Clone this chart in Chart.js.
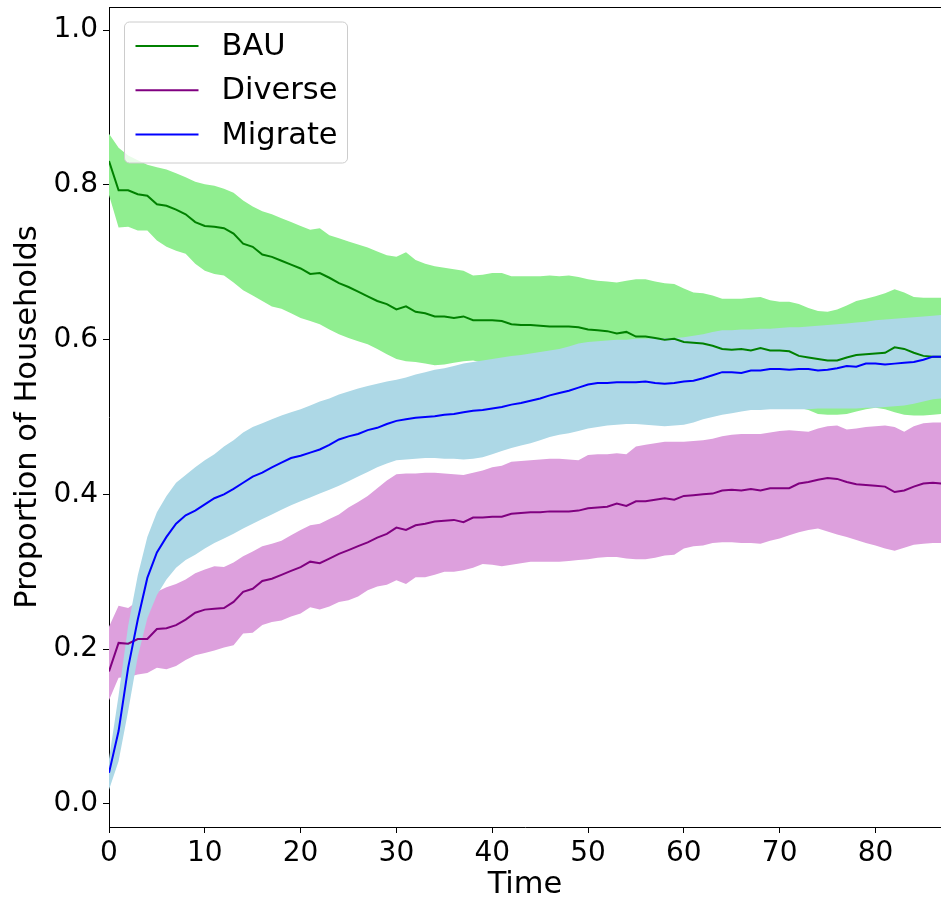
<!DOCTYPE html>
<html>
<head>
<meta charset="utf-8">
<script src="https://cdn.jsdelivr.net/npm/chart.js@4.4.1/dist/chart.umd.min.js"></script>
<style>
  html, body { margin: 0; padding: 0; background: #fff; }
  #marco { width: 941px; height: 900px; }
</style>
</head>
<body>
<div id="marco"><canvas id="grafico" width="941" height="900"></canvas></div>
<script>
const tiempo = Array.from({ length: 88 }, (_, i) => i);
const ticksX = [0, 10, 20, 30, 40, 50, 60, 70, 80];
const ticksY = [0, 0.2, 0.4, 0.6, 0.8, 1.0];
const nombres = ["BAU", "Diverse", "Migrate"];

// BAU
const bauMedia = [0.831, 0.793, 0.793, 0.788, 0.786, 0.775, 0.773, 0.768, 0.762, 0.752,
  0.747, 0.746, 0.744, 0.737, 0.724, 0.720, 0.710, 0.707, 0.702, 0.697,
  0.692, 0.685, 0.686, 0.680, 0.673, 0.668, 0.662, 0.656, 0.650, 0.646,
  0.639, 0.643, 0.636, 0.634, 0.630, 0.630, 0.628, 0.630, 0.625, 0.625,
  0.625, 0.624, 0.620, 0.619, 0.619, 0.618, 0.617, 0.617, 0.617, 0.616,
  0.613, 0.612, 0.611, 0.608, 0.610, 0.604, 0.604, 0.602, 0.600, 0.601,
  0.597, 0.596, 0.595, 0.592, 0.588, 0.587, 0.588, 0.586, 0.589, 0.586,
  0.586, 0.585, 0.579, 0.577, 0.575, 0.573, 0.573, 0.577, 0.580, 0.581,
  0.582, 0.583, 0.590, 0.588, 0.583, 0.579, 0.578, 0.578];
const bauSup = [0.866, 0.848, 0.838, 0.832, 0.826, 0.823, 0.820, 0.815, 0.810, 0.804,
  0.801, 0.799, 0.795, 0.790, 0.780, 0.772, 0.766, 0.762, 0.757, 0.752,
  0.747, 0.742, 0.744, 0.735, 0.731, 0.727, 0.723, 0.719, 0.714, 0.709,
  0.707, 0.713, 0.703, 0.698, 0.695, 0.693, 0.691, 0.689, 0.683, 0.684,
  0.686, 0.686, 0.682, 0.682, 0.682, 0.682, 0.683, 0.682, 0.683, 0.681,
  0.678, 0.676, 0.675, 0.674, 0.676, 0.678, 0.678, 0.675, 0.673, 0.672,
  0.666, 0.661, 0.660, 0.657, 0.653, 0.653, 0.653, 0.654, 0.655, 0.651,
  0.649, 0.649, 0.646, 0.641, 0.637, 0.636, 0.639, 0.644, 0.650, 0.653,
  0.656, 0.660, 0.665, 0.661, 0.655, 0.654, 0.654, 0.654];
const bauInf = [0.787, 0.745, 0.746, 0.741, 0.741, 0.728, 0.720, 0.715, 0.711, 0.698,
  0.689, 0.685, 0.683, 0.674, 0.664, 0.657, 0.650, 0.643, 0.640, 0.634,
  0.628, 0.624, 0.620, 0.613, 0.607, 0.602, 0.598, 0.594, 0.588, 0.581,
  0.575, 0.572, 0.571, 0.569, 0.567, 0.568, 0.570, 0.572, 0.573, 0.570,
  0.566, 0.565, 0.562, 0.560, 0.559, 0.557, 0.556, 0.555, 0.554, 0.553,
  0.551, 0.549, 0.548, 0.546, 0.545, 0.543, 0.541, 0.539, 0.537, 0.536,
  0.534, 0.532, 0.530, 0.528, 0.526, 0.524, 0.522, 0.520, 0.518, 0.516,
  0.514, 0.513, 0.512, 0.509, 0.504, 0.503, 0.503, 0.504, 0.507, 0.510,
  0.512, 0.510, 0.506, 0.503, 0.502, 0.502, 0.503, 0.504];

// Diverse
const divMedia = [0.171, 0.208, 0.207, 0.213, 0.213, 0.226, 0.227, 0.231, 0.238, 0.247,
  0.251, 0.252, 0.253, 0.261, 0.274, 0.278, 0.288, 0.291, 0.296, 0.301,
  0.306, 0.313, 0.311, 0.317, 0.323, 0.328, 0.333, 0.338, 0.344, 0.349,
  0.357, 0.354, 0.360, 0.362, 0.365, 0.366, 0.367, 0.364, 0.370, 0.370,
  0.371, 0.371, 0.375, 0.376, 0.377, 0.377, 0.378, 0.378, 0.378, 0.379,
  0.382, 0.383, 0.384, 0.388, 0.385, 0.391, 0.391, 0.393, 0.395, 0.393,
  0.398, 0.399, 0.400, 0.401, 0.405, 0.406, 0.405, 0.407, 0.405, 0.408,
  0.408, 0.408, 0.414, 0.416, 0.419, 0.421, 0.420, 0.416, 0.413, 0.412,
  0.411, 0.410, 0.403, 0.405, 0.410, 0.414, 0.415, 0.414];
const divSup = [0.229, 0.256, 0.253, 0.262, 0.268, 0.274, 0.280, 0.284, 0.290, 0.298,
  0.303, 0.307, 0.306, 0.312, 0.320, 0.326, 0.333, 0.336, 0.340, 0.347,
  0.354, 0.360, 0.362, 0.368, 0.374, 0.383, 0.390, 0.398, 0.408, 0.418,
  0.426, 0.427, 0.427, 0.428, 0.428, 0.427, 0.426, 0.425, 0.428, 0.431,
  0.435, 0.437, 0.442, 0.443, 0.444, 0.445, 0.446, 0.446, 0.445, 0.444,
  0.451, 0.452, 0.452, 0.453, 0.452, 0.462, 0.464, 0.466, 0.468, 0.468,
  0.468, 0.469, 0.470, 0.472, 0.475, 0.477, 0.478, 0.478, 0.478, 0.480,
  0.482, 0.483, 0.482, 0.481, 0.485, 0.488, 0.489, 0.484, 0.485, 0.487,
  0.488, 0.489, 0.487, 0.481, 0.488, 0.492, 0.493, 0.493];
const divInf = [0.134, 0.163, 0.164, 0.167, 0.169, 0.176, 0.174, 0.178, 0.186, 0.192,
  0.195, 0.198, 0.202, 0.205, 0.220, 0.221, 0.231, 0.235, 0.237, 0.242,
  0.246, 0.254, 0.251, 0.255, 0.261, 0.263, 0.268, 0.276, 0.281, 0.283,
  0.289, 0.284, 0.293, 0.293, 0.296, 0.300, 0.300, 0.302, 0.305, 0.310,
  0.309, 0.307, 0.309, 0.311, 0.313, 0.313, 0.313, 0.313, 0.314, 0.315,
  0.316, 0.318, 0.319, 0.319, 0.317, 0.316, 0.316, 0.318, 0.321, 0.322,
  0.330, 0.333, 0.334, 0.337, 0.338, 0.338, 0.337, 0.337, 0.336, 0.340,
  0.343, 0.347, 0.351, 0.354, 0.356, 0.352, 0.348, 0.345, 0.341, 0.337,
  0.334, 0.330, 0.327, 0.331, 0.335, 0.336, 0.337, 0.337];

// Migrate
const migMedia = [0.040, 0.094, 0.176, 0.238, 0.292, 0.325, 0.345, 0.362, 0.373, 0.379,
  0.387, 0.395, 0.400, 0.407, 0.415, 0.423, 0.428, 0.435, 0.441, 0.447,
  0.450, 0.454, 0.458, 0.464, 0.471, 0.475, 0.478, 0.483, 0.486, 0.491,
  0.495, 0.497, 0.499, 0.500, 0.501, 0.503, 0.504, 0.506, 0.508, 0.509,
  0.511, 0.513, 0.516, 0.518, 0.521, 0.524, 0.528, 0.531, 0.534, 0.538,
  0.542, 0.544, 0.544, 0.545, 0.545, 0.545, 0.546, 0.544, 0.543, 0.544,
  0.546, 0.547, 0.550, 0.554, 0.558, 0.558, 0.557, 0.560, 0.560, 0.562,
  0.562, 0.561, 0.562, 0.562, 0.560, 0.561, 0.563, 0.566, 0.565, 0.569,
  0.569, 0.568, 0.569, 0.570, 0.571, 0.574, 0.578, 0.578];
const migSup = [0.058, 0.140, 0.230, 0.295, 0.345, 0.377, 0.398, 0.415, 0.425, 0.435,
  0.444, 0.452, 0.462, 0.470, 0.480, 0.487, 0.492, 0.497, 0.502, 0.506,
  0.510, 0.515, 0.520, 0.524, 0.529, 0.533, 0.537, 0.540, 0.543, 0.546,
  0.548, 0.551, 0.555, 0.558, 0.561, 0.563, 0.566, 0.569, 0.571, 0.573,
  0.575, 0.577, 0.579, 0.580, 0.582, 0.584, 0.586, 0.588, 0.591, 0.595,
  0.597, 0.598, 0.599, 0.600, 0.600, 0.601, 0.601, 0.602, 0.602, 0.602,
  0.603, 0.605, 0.607, 0.610, 0.612, 0.612, 0.613, 0.613, 0.614, 0.614,
  0.615, 0.616, 0.616, 0.617, 0.618, 0.619, 0.620, 0.621, 0.622, 0.623,
  0.625, 0.626, 0.627, 0.628, 0.629, 0.630, 0.631, 0.632];
const migInf = [0.018, 0.055, 0.120, 0.190, 0.240, 0.270, 0.290, 0.305, 0.315, 0.322,
  0.330, 0.337, 0.343, 0.349, 0.356, 0.362, 0.368, 0.374, 0.380, 0.386,
  0.391, 0.396, 0.401, 0.406, 0.411, 0.417, 0.423, 0.429, 0.435, 0.440,
  0.444, 0.445, 0.446, 0.447, 0.447, 0.446, 0.446, 0.445, 0.446, 0.448,
  0.452, 0.456, 0.460, 0.463, 0.466, 0.470, 0.474, 0.477, 0.479, 0.482,
  0.485, 0.487, 0.489, 0.490, 0.491, 0.491, 0.490, 0.489, 0.488, 0.489,
  0.490, 0.493, 0.497, 0.500, 0.503, 0.505, 0.507, 0.509, 0.509, 0.510,
  0.510, 0.510, 0.510, 0.510, 0.511, 0.511, 0.511, 0.511, 0.511, 0.512,
  0.512, 0.513, 0.514, 0.515, 0.517, 0.520, 0.523, 0.524];

const FUENTE = "'DejaVu Sans', sans-serif";
const TAM = 28;      // numeros de los ejes
const TAM_TIT = 30.5; // titulos de ejes y leyenda

function puntos(valores) {
  return tiempo.map((t, i) => ({ x: t, y: valores[i] }));
}

function limite(valores, orden, relleno, color) {
  return {
    label: "_banda",
    data: puntos(valores),
    borderWidth: 0,
    borderColor: "rgba(0,0,0,0)",
    backgroundColor: color,
    pointRadius: 0,
    fill: relleno,
    order: orden
  };
}

function linea(nombre, valores, color, orden) {
  return {
    label: nombre,
    data: puntos(valores),
    borderColor: color,
    backgroundColor: color,
    borderWidth: 2,
    pointRadius: 0,
    fill: false,
    order: orden
  };
}

// leyenda y borde superior dibujados a mano (la leyenda va dentro del area)
const extras = {
  id: "extras",
  afterDraw(chart) {
    const ctx = chart.ctx;
    const area = chart.chartArea;
    ctx.save();
    ctx.strokeStyle = "#000";
    ctx.lineWidth = 1;
    ctx.beginPath();
    ctx.moveTo(area.left, area.top + 0.5);
    ctx.lineTo(area.right, area.top + 0.5);
    ctx.stroke();

    const x0 = area.left + 15.5, y0 = area.top + 15, w = 223, h = 141;
    ctx.fillStyle = "rgba(255,255,255,0.8)";
    ctx.strokeStyle = "#cccccc";
    ctx.beginPath();
    ctx.roundRect(x0, y0, w, h, 5);
    ctx.fill();
    ctx.stroke();

    const lineas = chart.data.datasets.filter(d => d.label !== "_banda");
    ctx.font = TAM_TIT + "px " + FUENTE;
    ctx.textBaseline = "middle";
    lineas.forEach((d, i) => {
      const y = y0 + 24 + i * 44.3;
      ctx.strokeStyle = d.borderColor;
      ctx.lineWidth = 2;
      ctx.beginPath();
      ctx.moveTo(x0 + 11, y);
      ctx.lineTo(x0 + 74, y);
      ctx.stroke();
      ctx.fillStyle = "#000";
      ctx.fillText(d.label, x0 + 97, y + 1);
    });
    ctx.restore();
  }
};

const chart = new Chart(document.getElementById("grafico").getContext("2d"), {
  type: "line",
  data: {
    datasets: [
      limite(bauInf, 30, false, "#90ee90"),
      limite(bauSup, 30, "-1", "#90ee90"),
      limite(divInf, 20, false, "#dda0dd"),
      limite(divSup, 20, "-1", "#dda0dd"),
      limite(migInf, 10, false, "#add8e6"),
      limite(migSup, 10, "-1", "#add8e6"),
      linea(nombres[0], bauMedia, "#008000", 3),
      linea(nombres[1], divMedia, "#800080", 2),
      linea(nombres[2], migMedia, "#0000ff", 1)
    ]
  },
  options: {
    responsive: false,
    animation: false,
    layout: { padding: { top: 7, right: 0, left: 0, bottom: 0 } },
    plugins: {
      legend: { display: false },
      tooltip: { enabled: false },
      filler: { drawTime: "beforeDatasetsDraw" }
    },
    scales: {
      x: {
        type: "linear",
        min: 0,
        max: 86.84,
        afterFit: s => { s.height = 73; },
        afterBuildTicks: s => { s.ticks = ticksX.map(v => ({ value: v })); },
        grid: { drawOnChartArea: false, drawTicks: true, tickLength: 6, color: "#000", tickWidth: 1 },
        border: { color: "#000", width: 1 },
        ticks: { color: "#000", font: { family: FUENTE, size: TAM }, padding: 4, maxRotation: 0, autoSkip: false },
        title: { display: true, text: "Time", color: "#000", font: { family: FUENTE, size: TAM_TIT, lineHeight: 1 }, padding: { top: 0, bottom: 0 } }
      },
      y: {
        min: -0.03,
        max: 1.03,
        afterFit: s => { s.width = 109; s.paddingTop = 0; s.paddingBottom = 0; },
        afterBuildTicks: s => { s.ticks = ticksY.map(v => ({ value: v })); },
        grid: { drawOnChartArea: false, drawTicks: true, tickLength: 6, color: "#000", tickWidth: 1 },
        border: { color: "#000", width: 1 },
        ticks: { color: "#000", font: { family: FUENTE, size: TAM }, padding: 5, callback: v => v.toFixed(1) },
        title: { display: true, text: "Proportion of Households", color: "#000", font: { family: FUENTE, size: TAM_TIT, lineHeight: 1 }, padding: { top: 13, bottom: 0 } }
      }
    }
  },
  plugins: [extras]
});
</script>
</body>
</html>
